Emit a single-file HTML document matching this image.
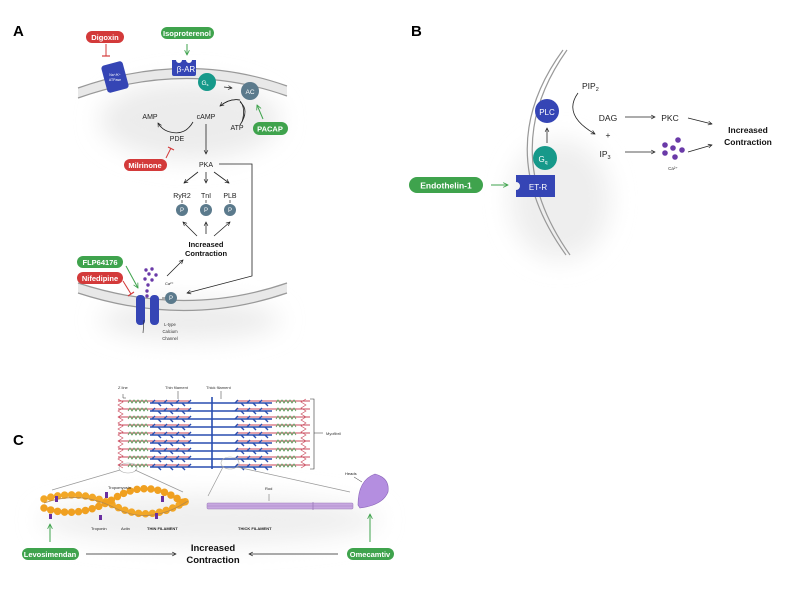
<!DOCTYPE html>
<html><head><meta charset="utf-8"><style>
html,body{margin:0;padding:0;background:#fff;width:800px;height:591px;overflow:hidden}
text{font-family:"Liberation Sans",sans-serif}
</style></head><body>
<svg width="800" height="591" viewBox="0 0 800 591" xmlns="http://www.w3.org/2000/svg">
<defs>
<marker id="ar" viewBox="0 0 10 10" refX="9" refY="5" markerWidth="6" markerHeight="6" orient="auto"><path d="M1,1 L9,5 L1,9" fill="none" stroke="#222" stroke-width="1.4"/></marker>
<marker id="ag" viewBox="0 0 10 10" refX="9" refY="5" markerWidth="6" markerHeight="6" orient="auto"><path d="M1,1 L9,5 L1,9" fill="none" stroke="#3fa34d" stroke-width="1.4"/></marker>
<filter id="sh" x="-50%" y="-50%" width="200%" height="200%"><feGaussianBlur stdDeviation="12"/></filter>
<g id="row">
 <line x1="118" y1="0" x2="190" y2="0" stroke="#c9475a" stroke-width="1"/>
 <line x1="236" y1="0" x2="310" y2="0" stroke="#c9475a" stroke-width="1"/>
 <path d="M128,2 l2,-3 l2,3 l2,-3 l2,3 l2,-3 l2,3 l2,-3 l2,3 l2,-3 l2,3" fill="none" stroke="#5a9a5a" stroke-width="0.8"/>
 <path d="M276,2 l2,-3 l2,3 l2,-3 l2,3 l2,-3 l2,3 l2,-3 l2,3 l2,-3 l2,3" fill="none" stroke="#5a9a5a" stroke-width="0.8"/>
 <line x1="150" y1="2" x2="272" y2="2" stroke="#2a4fb0" stroke-width="1.6"/>
 <path d="M152,2 l3,-3 M158,2 l3,3 M164,2 l3,-3 M170,2 l3,3 M176,2 l3,-3 M182,2 l3,3 M188,2 l3,-3 M235,2 l3,-3 M241,2 l3,3 M247,2 l3,-3 M253,2 l3,3 M259,2 l3,-3 M265,2 l3,3" stroke="#2a4fb0" stroke-width="1.4"/>
</g>
</defs>

<!-- soft shadows -->
<ellipse cx="190" cy="120" rx="90" ry="40" fill="#ececec" filter="url(#sh)"/>
<ellipse cx="190" cy="320" rx="90" ry="20" fill="#ececec" filter="url(#sh)"/>
<ellipse cx="560" cy="200" rx="50" ry="60" fill="#eeeeee" filter="url(#sh)"/>
<ellipse cx="210" cy="520" rx="170" ry="25" fill="#efefef" filter="url(#sh)"/>

<!-- Panel labels -->
<text x="13" y="36" font-size="15" font-weight="bold">A</text>
<text x="411" y="36" font-size="15" font-weight="bold">B</text>
<text x="13" y="445" font-size="15" font-weight="bold">C</text>

<!-- Panel A membranes -->
<path d="M78,88 Q185,50 287,86 L287,96 Q185,60 78,98 Z" fill="#e8e8e8"/>
<path d="M78,88 Q185,50 287,86" fill="none" stroke="#999" stroke-width="1.2"/>
<path d="M78,98 Q185,60 287,96" fill="none" stroke="#999" stroke-width="1.2"/>
<path d="M78,283 Q185,318 287,283 L287,293 Q185,328 78,293 Z" fill="#e8e8e8"/>
<path d="M78,283 Q185,318 287,283" fill="none" stroke="#999" stroke-width="1.2"/>
<path d="M78,293 Q185,328 287,293" fill="none" stroke="#999" stroke-width="1.2"/>

<!-- Digoxin -->
<rect x="86" y="31" width="38" height="12" rx="6" fill="#d33a3a"/>
<text x="105" y="40" font-size="7.5" font-weight="bold" fill="#fff" text-anchor="middle">Digoxin</text>
<line x1="106" y1="44" x2="106" y2="56" stroke="#d33a3a" stroke-width="1"/><line x1="102" y1="56" x2="110" y2="56" stroke="#d33a3a" stroke-width="1.2"/>
<rect x="104" y="63" width="22" height="28" rx="3" fill="#3545b5" transform="rotate(-15 115 77)"/>
<text x="115" y="76" font-size="3.5" fill="#fff" text-anchor="middle">Na⁺/K⁺</text>
<text x="115" y="81" font-size="3.5" fill="#fff" text-anchor="middle">ATPase</text>

<!-- Isoproterenol -->
<rect x="161" y="27" width="53" height="12" rx="6" fill="#3fa34d"/>
<text x="187" y="36" font-size="7.5" font-weight="bold" fill="#fff" text-anchor="middle">Isoproterenol</text>
<line x1="187" y1="44" x2="187" y2="55" stroke="#3fa34d" stroke-width="1" marker-end="url(#ag)"/>
<path d="M172,60 h4 a3,3 0 0 0 6,0 h4 a3,3 0 0 0 6,0 h4 v14 a2,2 0 0 1 -2,2 h-20 a2,2 0 0 1 -2,-2 z" fill="#3545b5"/>
<text x="186" y="72" font-size="8" fill="#fff" text-anchor="middle">β-AR</text>
<circle cx="207" cy="82" r="9" fill="#16998a"/>
<text x="205" y="85" font-size="6.5" fill="#fff" text-anchor="middle">G<tspan font-size="4" dy="1">s</tspan></text>
<line x1="224" y1="87" x2="232" y2="88" stroke="#222" stroke-width="0.8" marker-end="url(#ar)"/>
<circle cx="250" cy="91" r="9" fill="#5b7a8c"/>
<text x="250" y="94" font-size="6.5" fill="#fff" text-anchor="middle">AC</text>
<path d="M240,102 Q250,110 240,125 M240,100 Q230,98 220,106" fill="none" stroke="#222" stroke-width="0.8"/>
<path d="M240,100 Q230,98 220,106" fill="none" stroke="#222" stroke-width="0.8" marker-end="url(#ar)"/>
<path d="M242,122 Q246,108 240,101" fill="none" stroke="#222" stroke-width="0.8"/>
<line x1="263" y1="119" x2="257" y2="105" stroke="#3fa34d" stroke-width="1" marker-end="url(#ag)"/>
<rect x="253" y="122" width="35" height="13" rx="6.5" fill="#3fa34d"/>
<text x="270" y="131.5" font-size="7.5" font-weight="bold" fill="#fff" text-anchor="middle">PACAP</text>
<text x="150" y="119" font-size="7" fill="#222" text-anchor="middle">AMP</text>
<text x="206" y="119" font-size="7" fill="#222" text-anchor="middle">cAMP</text>
<text x="237" y="130" font-size="7" fill="#222" text-anchor="middle">ATP</text>
<text x="177" y="141" font-size="7" fill="#222" text-anchor="middle">PDE</text>
<path d="M193,122 Q185,136 170,132 Q162,130 158,123" fill="none" stroke="#222" stroke-width="0.8" marker-end="url(#ar)"/>
<line x1="166" y1="158" x2="171" y2="148" stroke="#d33a3a" stroke-width="1"/><line x1="168" y1="147" x2="174" y2="150" stroke="#d33a3a" stroke-width="1.2"/>
<rect x="124" y="159" width="43" height="12" rx="6" fill="#d33a3a"/>
<text x="145" y="168" font-size="7.5" font-weight="bold" fill="#fff" text-anchor="middle">Milrinone</text>
<line x1="206" y1="124" x2="206" y2="154" stroke="#222" stroke-width="0.8" marker-end="url(#ar)"/>
<text x="206" y="167" font-size="7" fill="#222" text-anchor="middle">PKA</text>
<line x1="198" y1="172" x2="184" y2="183" stroke="#222" stroke-width="0.8" marker-end="url(#ar)"/>
<line x1="206" y1="172" x2="206" y2="183" stroke="#222" stroke-width="0.8" marker-end="url(#ar)"/>
<line x1="214" y1="172" x2="229" y2="183" stroke="#222" stroke-width="0.8" marker-end="url(#ar)"/>
<text x="182" y="198" font-size="7" fill="#222" text-anchor="middle">RyR2</text>
<text x="206" y="198" font-size="7" fill="#222" text-anchor="middle">TnI</text>
<text x="230" y="198" font-size="7" fill="#222" text-anchor="middle">PLB</text>
<g fill="#5b7a8c"><circle cx="182" cy="210" r="6"/><circle cx="206" cy="210" r="6"/><circle cx="230" cy="210" r="6"/><circle cx="171" cy="298" r="6"/></g>
<g font-size="6" fill="#fff" text-anchor="middle"><text x="182" y="212">P</text><text x="206" y="212">P</text><text x="230" y="212">P</text><text x="171" y="300">P</text></g>
<g stroke="#222" stroke-width="0.7"><line x1="182" y1="200" x2="182" y2="203"/><line x1="206" y1="200" x2="206" y2="203"/><line x1="230" y1="200" x2="230" y2="203"/><line x1="162" y1="298" x2="165" y2="298"/></g>
<line x1="197" y1="236" x2="183" y2="222" stroke="#222" stroke-width="0.8" marker-end="url(#ar)"/>
<line x1="206" y1="234" x2="206" y2="222" stroke="#222" stroke-width="0.8" marker-end="url(#ar)"/>
<line x1="214" y1="236" x2="230" y2="222" stroke="#222" stroke-width="0.8" marker-end="url(#ar)"/>
<text x="206" y="247" font-size="7.5" font-weight="bold" fill="#111" text-anchor="middle">Increased</text>
<text x="206" y="256" font-size="7.5" font-weight="bold" fill="#111" text-anchor="middle">Contraction</text>
<polyline points="219,164 252,164 252,276 187,293" fill="none" stroke="#222" stroke-width="0.8" marker-end="url(#ar)"/>
<line x1="167" y1="276" x2="183" y2="260" stroke="#222" stroke-width="0.8" marker-end="url(#ar)"/>
<rect x="77" y="256" width="46" height="12" rx="6" fill="#3fa34d"/>
<text x="100" y="265" font-size="7.5" font-weight="bold" fill="#fff" text-anchor="middle">FLP64176</text>
<rect x="77" y="272" width="46" height="12" rx="6" fill="#d33a3a"/>
<text x="100" y="281" font-size="7.5" font-weight="bold" fill="#fff" text-anchor="middle">Nifedipine</text>
<line x1="126" y1="266" x2="138" y2="288" stroke="#3fa34d" stroke-width="1" marker-end="url(#ag)"/>
<line x1="123" y1="281" x2="131" y2="294" stroke="#d33a3a" stroke-width="1"/><line x1="128" y1="296" x2="134" y2="292" stroke="#d33a3a" stroke-width="1.2"/>
<g fill="#6a3aa8"><circle cx="146" cy="270" r="1.7"/><circle cx="152" cy="269" r="1.7"/><circle cx="149" cy="274" r="1.7"/><circle cx="156" cy="275" r="1.7"/><circle cx="145" cy="279" r="1.7"/><circle cx="152" cy="280" r="1.7"/><circle cx="148" cy="285" r="1.7"/><circle cx="147" cy="291" r="1.7"/><circle cx="147" cy="296" r="1.7"/></g>
<text x="165" y="285" font-size="4" fill="#222">Ca²⁺</text>
<rect x="136" y="295" width="9" height="30" rx="4" fill="#3545b5"/>
<rect x="150" y="295" width="9" height="30" rx="4" fill="#3545b5"/>
<line x1="144" y1="320" x2="143" y2="333" stroke="#222" stroke-width="0.6"/>
<g font-size="4.2" fill="#333" text-anchor="middle"><text x="170" y="326">L-type</text><text x="170" y="333">Calcium</text><text x="170" y="340">Channel</text></g>

<!-- Panel B -->
<path d="M563,50 Q490,150 566,255" fill="none" stroke="#999" stroke-width="1.2"/>
<path d="M567,50 Q496,150 570,255" fill="none" stroke="#999" stroke-width="1.2"/>
<circle cx="547" cy="111" r="12" fill="#3545b5"/>
<text x="547" y="115" font-size="8" fill="#fff" text-anchor="middle">PLC</text>
<line x1="547" y1="143" x2="547" y2="128" stroke="#222" stroke-width="0.8" marker-end="url(#ar)"/>
<circle cx="545" cy="158" r="12" fill="#16998a"/>
<text x="543" y="162" font-size="8" fill="#fff" text-anchor="middle">G<tspan font-size="5" dy="2">q</tspan></text>
<path d="M516,175 h39 v22 h-39 v-7 a4,4 0 0 0 0,-8 z" fill="#3545b5"/>
<text x="538" y="190" font-size="8" fill="#fff" text-anchor="middle">ET-R</text>
<rect x="409" y="177" width="74" height="16" rx="8" fill="#3fa34d"/>
<text x="446" y="188.5" font-size="8.5" font-weight="bold" fill="#fff" text-anchor="middle">Endothelin-1</text>
<line x1="491" y1="185" x2="508" y2="185" stroke="#3fa34d" stroke-width="1" marker-end="url(#ag)"/>
<text x="582" y="89" font-size="8.5" fill="#222">PIP<tspan font-size="5.5" dy="2">2</tspan></text>
<path d="M578,93 Q562,115 595,134" fill="none" stroke="#222" stroke-width="0.8" marker-end="url(#ar)"/>
<text x="608" y="121" font-size="8.5" fill="#222" text-anchor="middle">DAG</text>
<text x="608" y="138" font-size="8.5" fill="#222" text-anchor="middle">+</text>
<text x="605" y="157" font-size="8.5" fill="#222" text-anchor="middle">IP<tspan font-size="5.5" dy="2">3</tspan></text>
<line x1="625" y1="117" x2="655" y2="117" stroke="#222" stroke-width="0.8" marker-end="url(#ar)"/>
<text x="670" y="121" font-size="8.5" fill="#222" text-anchor="middle">PKC</text>
<line x1="625" y1="152" x2="655" y2="152" stroke="#222" stroke-width="0.8" marker-end="url(#ar)"/>
<g fill="#6a3aa8"><circle cx="665" cy="145" r="2.8"/><circle cx="678" cy="140" r="2.8"/><circle cx="673" cy="148" r="2.8"/><circle cx="682" cy="150" r="2.8"/><circle cx="665" cy="153" r="2.8"/><circle cx="675" cy="157" r="2.8"/></g>
<text x="673" y="170" font-size="4.5" fill="#333" text-anchor="middle">Ca²⁺</text>
<line x1="688" y1="118" x2="712" y2="124" stroke="#222" stroke-width="0.8" marker-end="url(#ar)"/>
<line x1="688" y1="152" x2="712" y2="145" stroke="#222" stroke-width="0.8" marker-end="url(#ar)"/>
<text x="748" y="133" font-size="8.5" font-weight="bold" fill="#111" text-anchor="middle">Increased</text>
<text x="748" y="145" font-size="8.5" font-weight="bold" fill="#111" text-anchor="middle">Contraction</text>

<!-- Panel C sarcomere -->
<g font-size="4" fill="#333"><text x="118" y="389">Z line</text><text x="165" y="389">Thin filament</text><text x="206" y="389">Thick filament</text><text x="326" y="435">Myofibril</text></g>
<polyline points="123,394 123,398 126,398" fill="none" stroke="#333" stroke-width="0.5"/>
<line x1="178" y1="391" x2="178" y2="399" stroke="#333" stroke-width="0.5"/>
<line x1="221" y1="391" x2="221" y2="399" stroke="#333" stroke-width="0.5"/>
<polyline points="310,399 314,399 314,469 310,469" fill="none" stroke="#333" stroke-width="0.6"/>
<line x1="314" y1="433" x2="323" y2="433" stroke="#333" stroke-width="0.5"/>
<use href="#row" y="401"/><use href="#row" y="409"/><use href="#row" y="417"/><use href="#row" y="425"/><use href="#row" y="433"/><use href="#row" y="441"/><use href="#row" y="449"/><use href="#row" y="457"/><use href="#row" y="465"/>
<line x1="212" y1="397" x2="212" y2="469" stroke="#2a4fb0" stroke-width="1.6"/>
<path d="M118,399 l5,3 l-5,3 l5,3 l-5,3 l5,3 l-5,3 l5,3 l-5,3 l5,3 l-5,3 l5,3 l-5,3 l5,3 l-5,3 l5,3 l-5,3 l5,3 l-5,3 l5,3 l-5,3 l5,3 l-5,3 l5,3" fill="none" stroke="#c9475a" stroke-width="0.6"/>
<path d="M306,399 l-5,3 l5,3 l-5,3 l5,3 l-5,3 l5,3 l-5,3 l5,3 l-5,3 l5,3 l-5,3 l5,3 l-5,3 l5,3 l-5,3 l5,3 l-5,3 l5,3 l-5,3 l5,3 l-5,3 l5,3 l-5,3" fill="none" stroke="#c9475a" stroke-width="0.6"/>
<ellipse cx="128" cy="468" rx="9" ry="5" fill="none" stroke="#aaa" stroke-width="0.6"/>
<ellipse cx="230" cy="463" rx="9" ry="6" fill="none" stroke="#aaa" stroke-width="0.6"/>
<line x1="120" y1="470" x2="52" y2="490" stroke="#999" stroke-width="0.7"/>
<line x1="135" y1="470" x2="183" y2="492" stroke="#999" stroke-width="0.7"/>
<line x1="223" y1="467" x2="208" y2="496" stroke="#999" stroke-width="0.7"/>
<line x1="237" y1="467" x2="350" y2="492" stroke="#999" stroke-width="0.7"/>

<!-- thin filament -->
<path d="M44,499 Q80,488 115,506 T188,500" fill="none" stroke="#f2a727" stroke-width="7.5" stroke-linecap="round" stroke-dasharray="0 7"/>
<path d="M44,508 Q80,520 115,498 T188,506" fill="none" stroke="#f0a020" stroke-width="7.5" stroke-linecap="round" stroke-dasharray="0 7"/>
<path d="M44,503 Q80,490 115,508 T188,501" fill="none" stroke="#b88a4a" stroke-width="0.8"/>
<g fill="#6a2fa0"><rect x="55" y="496" width="3" height="6"/><rect x="105" y="492" width="3" height="6"/><rect x="161" y="496" width="3" height="6"/><rect x="49" y="514" width="3" height="5"/><rect x="99" y="515" width="3" height="5"/><rect x="155" y="513" width="3" height="6"/></g>
<g font-size="4" fill="#222"><text x="108" y="489">Tropomyosin</text><text x="91" y="530">Troponin</text><text x="121" y="530">Actin</text><text x="147" y="530" font-weight="bold">THIN FILAMENT</text><text x="238" y="530" font-weight="bold">THICK FILAMENT</text><text x="265" y="490">Rod</text><text x="345" y="475">Heads</text></g>

<!-- thick filament -->
<rect x="207" y="503" width="146" height="6" rx="1" fill="#c7a8e0" stroke="#9a7ab8" stroke-width="0.5"/>
<line x1="207" y1="506" x2="353" y2="506" stroke="#9a7ab8" stroke-width="0.4"/>
<line x1="313" y1="502" x2="313" y2="510" stroke="#9a7ab8" stroke-width="0.8"/>
<line x1="269" y1="494" x2="269" y2="501" stroke="#333" stroke-width="0.4"/>
<line x1="354" y1="477" x2="362" y2="482" stroke="#333" stroke-width="0.5"/>
<path d="M358,505 Q358,480 375,474 Q390,478 388,492 Q383,505 360,508 Z" fill="#b48ee0" stroke="#8a64b8" stroke-width="0.6"/>

<!-- bottom -->
<line x1="50" y1="542" x2="50" y2="524" stroke="#3fa34d" stroke-width="1" marker-end="url(#ag)"/>
<line x1="370" y1="542" x2="370" y2="514" stroke="#3fa34d" stroke-width="1" marker-end="url(#ag)"/>
<rect x="22" y="548" width="57" height="12" rx="6" fill="#3fa34d"/>
<text x="50" y="557" font-size="7.5" font-weight="bold" fill="#fff" text-anchor="middle">Levosimendan</text>
<rect x="347" y="548" width="47" height="12" rx="6" fill="#3fa34d"/>
<text x="370" y="557" font-size="7.5" font-weight="bold" fill="#fff" text-anchor="middle">Omecamtiv</text>
<line x1="86" y1="554" x2="176" y2="554" stroke="#222" stroke-width="0.8" marker-end="url(#ar)"/>
<line x1="338" y1="554" x2="249" y2="554" stroke="#222" stroke-width="0.8" marker-end="url(#ar)"/>
<text x="213" y="551" font-size="9.5" font-weight="bold" fill="#111" text-anchor="middle">Increased</text>
<text x="213" y="563" font-size="9.5" font-weight="bold" fill="#111" text-anchor="middle">Contraction</text>
</svg>
</body></html>
